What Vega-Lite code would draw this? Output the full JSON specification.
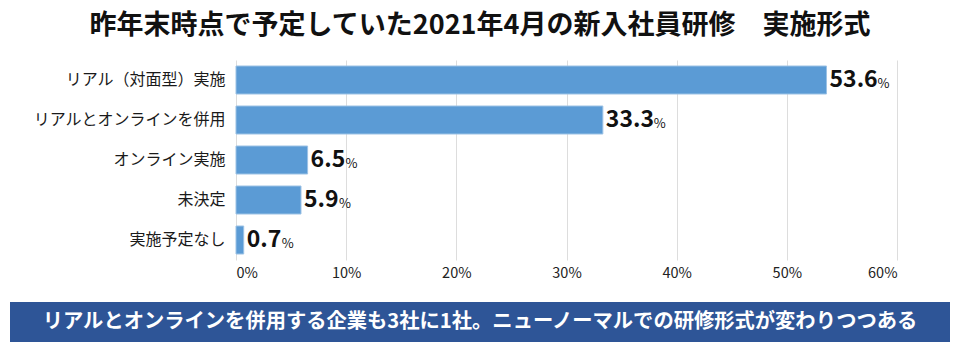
{
  "$schema": "https://vega.github.io/schema/vega-lite/v6.json",
  "padding": {"left": 10, "right": 10, "top": 12, "bottom": 10},
  "background": "white",
  "title": {"text": "昨年末時点で予定していた2021年4月の新入社員研修　実施形式", "fontSize": 27, "font": "Noto Sans CJK JP", "fontWeight": "bold", "color": "#111111", "anchor": "middle", "offset": 20},
  "config": {"view": {"stroke": null}, "font": "Noto Sans CJK JP"},
  "spacing": 22,
  "vconcat": [
    {
      "width": 887,
      "height": 200,
      "data": {"values": [
        {"category": "リアル（対面型）実施", "value": 53.6},
        {"category": "リアルとオンラインを併用", "value": 33.3},
        {"category": "オンライン実施", "value": 6.5},
        {"category": "未決定", "value": 5.9},
        {"category": "実施予定なし", "value": 0.7}
      ]},
      "transform": [
        {"calculate": "format(datum.value, '.1f')", "as": "num"}
      ],
      "encoding": {
        "y": {"field": "category", "type": "nominal", "sort": null,
          "scale": {"paddingInner": 0.3, "paddingOuter": 0.15},
          "axis": {"title": null, "domain": false, "ticks": false, "offset": -226, "labelFontSize": 16, "labelPadding": 11, "labelColor": "#1a1a1a", "labelLimit": 300}},
        "x": {"field": "value", "type": "quantitative",
          "scale": {"domain": [0, 60], "nice": false, "range": [226, 887]},
          "axis": {"title": null, "values": [0, 10, 20, 30, 40, 50, 60], "labelExpr": "datum.value + '%'", "domain": false, "ticks": false, "grid": true, "gridColor": "#dddddd", "labelFontSize": 14.5, "labelColor": "#222222", "labelPadding": 6}}
      },
      "layer": [
        {"mark": {"type": "bar", "color": "#5b9bd5", "stroke": "#9cc2e5", "strokeWidth": 1}},
        {"mark": {"type": "text", "align": "left", "baseline": "middle", "dx": 3, "fontSize": 23, "fontWeight": "bold", "color": "#111111"},
          "encoding": {"text": {"field": "num"}}},
        {"mark": {"type": "text", "align": "left", "baseline": "alphabetic", "dx": {"expr": "length(datum.num) >= 4 ? 51 : 38"}, "dy": 8, "fontSize": 13, "color": "#111111"},
          "encoding": {"text": {"value": "%"}}}
      ]
    },
    {
      "width": 940,
      "height": 40,
      "view": {"fill": "#2e5597", "stroke": null},
      "data": {"values": [{"caption": "リアルとオンラインを併用する企業も3社に1社。ニューノーマルでの研修形式が変わりつつある"}]},
      "mark": {"type": "text", "color": "white", "fontSize": 20.3, "fontWeight": "bold", "baseline": "middle", "align": "center"},
      "encoding": {"text": {"field": "caption"}}
    }
  ]
}
